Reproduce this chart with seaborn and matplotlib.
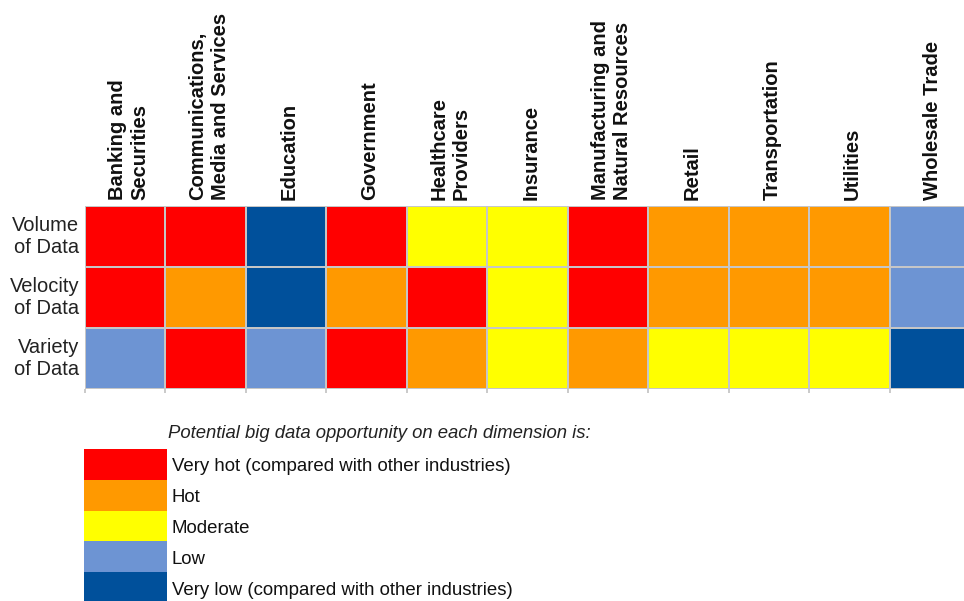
import numpy as np
import pandas as pd
import matplotlib
matplotlib.use("Agg")
import matplotlib.pyplot as plt
from matplotlib.colors import ListedColormap
import seaborn as sns

# Industries (columns) and data dimensions (rows)
industries = [
    "Banking and\nSecurities",
    "Communications,\nMedia and Services",
    "Education",
    "Government",
    "Healthcare\nProviders",
    "Insurance",
    "Manufacturing and\nNatural Resources",
    "Retail",
    "Transportation",
    "Utilities",
    "Wholesale Trade",
]
dimensions = ["Volume\nof Data", "Velocity\nof Data", "Variety\nof Data"]

# Opportunity levels, from lowest to highest
levels = ["Very low", "Low", "Moderate", "Hot", "Very hot"]
level_colors = ["#00509B", "#6D94D3", "#FFFF00", "#FF9900", "#FF0000"]
legend_labels = [
    "Very hot (compared with other industries)",
    "Hot",
    "Moderate",
    "Low",
    "Very low (compared with other industries)",
]

volume = ["Very hot", "Very hot", "Very low", "Very hot", "Moderate", "Moderate",
          "Very hot", "Hot", "Hot", "Hot", "Low"]
velocity = ["Very hot", "Hot", "Very low", "Hot", "Very hot", "Moderate",
            "Very hot", "Hot", "Hot", "Hot", "Low"]
variety = ["Low", "Very hot", "Low", "Very hot", "Hot", "Moderate",
           "Hot", "Moderate", "Moderate", "Moderate", "Very low"]

sns.set_theme(style="white")
plt.rcParams["font.family"] = ["Liberation Sans", "DejaVu Sans"]

codes = pd.DataFrame(
    [[levels.index(v) for v in row] for row in (volume, velocity, variety)],
    index=dimensions, columns=industries,
)
cmap = ListedColormap(level_colors)

fig = plt.figure(figsize=(9.64, 6.01), dpi=100)
W, H = 964, 601

# Main grid
ax = fig.add_axes([85 / W, 1 - 389 / H, (970 - 85) / W, (389 - 206) / H])
sns.heatmap(codes, ax=ax, cmap=cmap, vmin=-0.5, vmax=len(levels) - 0.5,
            cbar=False, linewidths=1.3, linecolor="#c6c6c6")
ax.xaxis.tick_top()
# column headers sit a touch right of the cell centres
ax.set_xticks(np.arange(len(industries)) + 0.54)
ax.set_xticklabels(industries, rotation=90, fontsize=14.5, fontweight="bold",
                   color="#111111", ha="center", va="bottom",
                   multialignment="left", linespacing=1.22)
ax.set_yticklabels(dimensions, rotation=0, fontsize=14.5, color="#222222",
                   ha="right", va="center", multialignment="right",
                   linespacing=1.22)
ax.tick_params(axis="x", which="major", length=0, pad=4)
ax.tick_params(axis="y", which="major", length=0, pad=4)
ax.set_xticks(np.arange(len(industries) + 1), minor=True)
ax.tick_params(axis="x", which="minor", bottom=True, top=False,
               length=3, width=1.3, color="#c6c6c6")
ax.set_xlabel("")
ax.set_ylabel("")

# Legend swatches
leg_codes = pd.DataFrame([[levels.index(l)] for l in reversed(levels)])
lax = fig.add_axes([84 / W, 1 - 603 / H, (167 - 84) / W, (603 - 449) / H])
sns.heatmap(leg_codes, ax=lax, cmap=cmap, vmin=-0.5, vmax=len(levels) - 0.5,
            cbar=False, xticklabels=False, yticklabels=False)
lax.set_xlabel("")
lax.set_ylabel("")
for i, lab in enumerate(legend_labels):
    lax.text(1.06, i + 0.58, lab, transform=lax.transData, fontsize=13.4,
             color="#111111", ha="left", va="center", clip_on=False)

fig.text(168 / W, 1 - 433 / H,
         "Potential big data opportunity on each dimension is:",
         fontsize=13.3, style="italic", color="#222222", ha="left", va="center")

fig.savefig("out.png", dpi=100)
